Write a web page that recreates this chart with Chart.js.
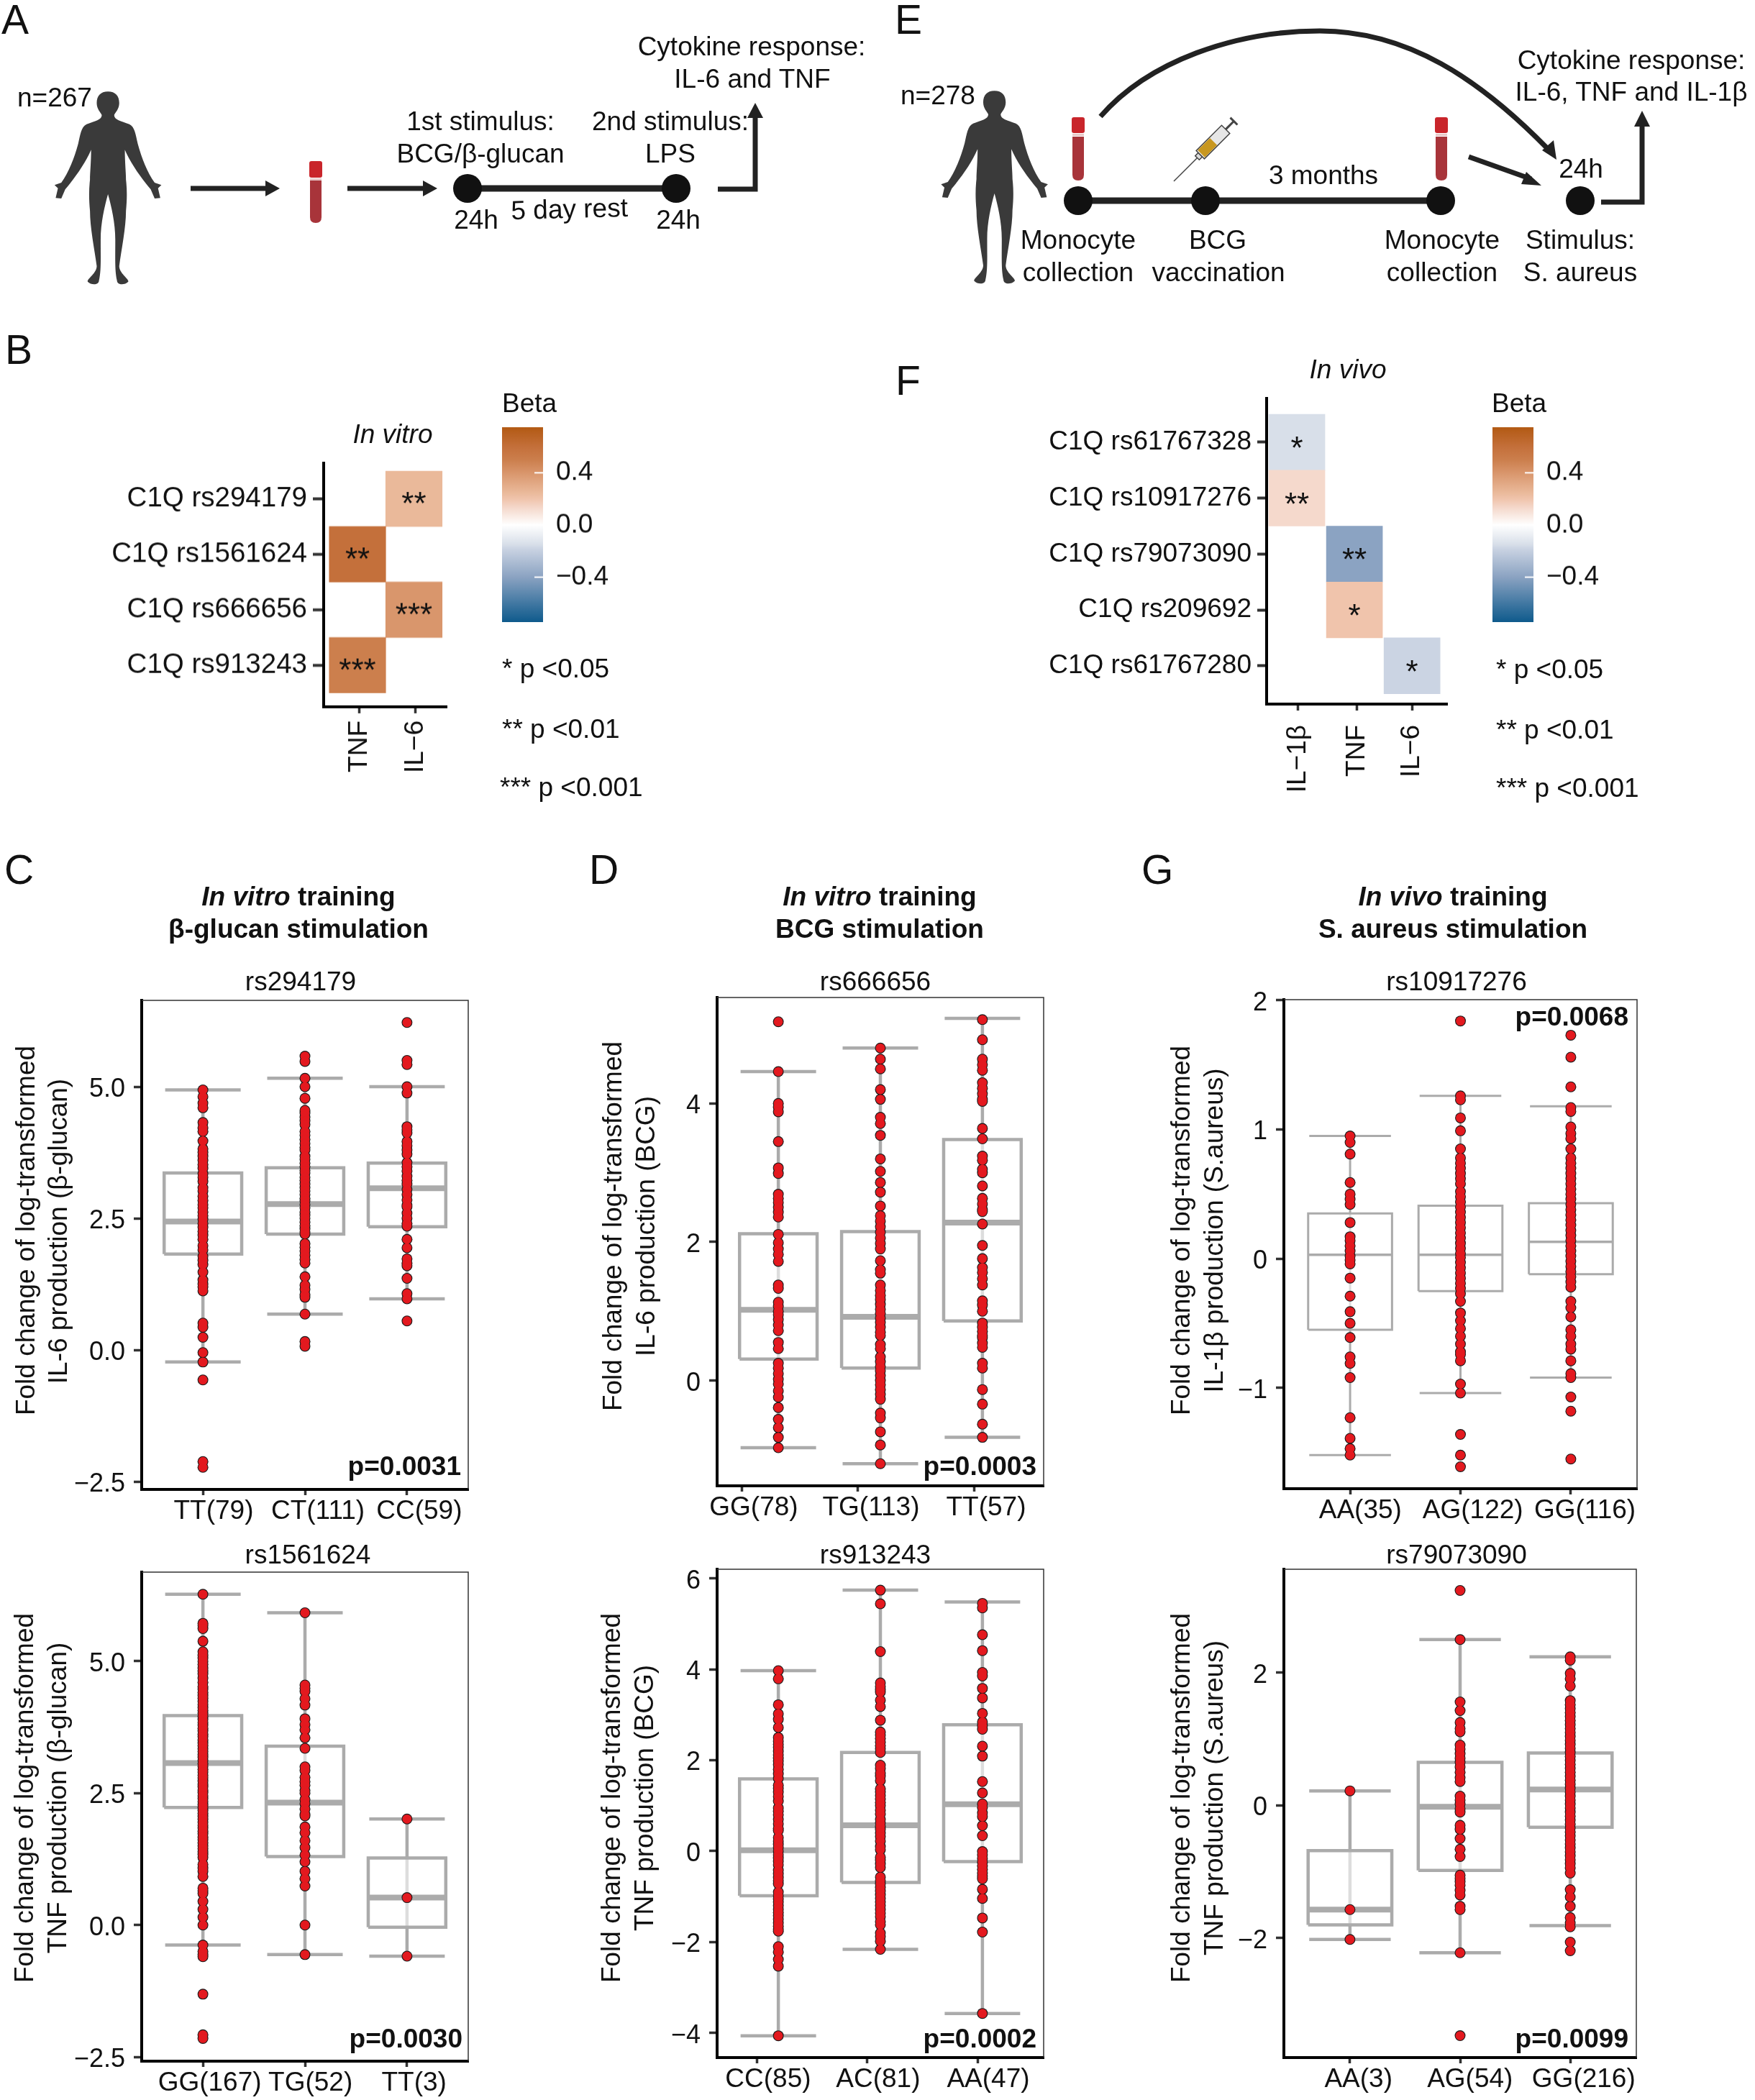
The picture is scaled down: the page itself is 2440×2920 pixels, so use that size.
<!DOCTYPE html>
<html><head><meta charset="utf-8">
<script src="https://cdn.jsdelivr.net/npm/chart.js@4"></script>
<style>
html,body{margin:0;padding:0;background:#fff}
#page{position:relative;width:2440px;height:2920px;overflow:hidden;background:#fff}
canvas{position:absolute}
svg{position:absolute;left:0;top:0;pointer-events:none}
text{font-family:"Liberation Sans",Arial,sans-serif;font-size:37px;fill:#111}
</style></head><body><div id="page"></div>
<script>
/* ---------- data: boxplot panels ---------- */
const catsC1=["TT(79)","CT(111)","CC(59)"];
const statsC1=[[1.82,2.44,3.36,-0.23,4.94],[2.20,2.77,3.46,0.68,5.16],[2.34,3.07,3.55,0.97,5.0]];
const ptsC1a=[4.94,4.81,4.69,4.6,4.32,4.22,4.15,3.97,3.82,3.75,3.68,3.6,3.52,3.45,3.35,3.28,3.2,3.08,3.02,2.92,2.84,2.76,2.7,2.62,2.55,2.48,2.4,2.33,2.25,2.18,2.1,1.98,1.9,1.78,1.7,1.62,1.48,1.33,1.25,1.2,1.12,0.51,0.43,0.24,-0.05,-0.23,-0.57,-2.12,-2.23];
const ptsC1b=[5.58,5.48,5.16,5.0,4.78,4.55,4.5,4.42,4.35,4.28,4.15,4.08,4.0,3.92,3.85,3.8,3.68,3.62,3.55,3.48,3.41,3.36,3.28,3.22,3.15,3.08,3.02,2.95,2.88,2.83,2.76,2.7,2.62,2.56,2.5,2.43,2.36,2.3,2.24,2.2,2.02,1.95,1.88,1.8,1.72,1.65,1.39,1.23,1.15,1.05,1.0,0.68,0.16,0.07];
const ptsC1c=[6.22,5.5,5.42,5.0,4.88,4.24,4.18,4.12,3.96,3.88,3.8,3.72,3.56,3.48,3.4,3.3,3.22,3.15,3.05,2.95,2.85,2.75,2.72,2.6,2.5,2.4,2.35,2.1,1.94,1.73,1.65,1.6,1.36,1.07,0.97,0.55];

const catsC2=["GG(167)","TG(52)","TT(3)"];
const statsC2=[[2.23,3.07,3.97,-0.38,6.27],[1.30,2.32,3.39,-0.56,5.92],[-0.04,0.52,1.27,-0.59,2.01]];
const ptsC2a=[6.27,5.72,5.68,5.62,5.38,5.18,5.12,5.06,5.0,4.94,4.87,4.82,4.76,4.68,4.6,4.52,4.47,4.41,4.35,4.3,4.24,4.18,4.12,4.07,4.01,3.96,3.9,3.84,3.79,3.73,3.68,3.62,3.57,3.51,3.45,3.4,3.34,3.29,3.23,3.18,3.12,3.06,3.01,2.95,2.9,2.84,2.79,2.73,2.67,2.62,2.56,2.51,2.45,2.4,2.34,2.28,2.23,2.17,2.12,2.06,2.01,1.95,1.89,1.84,1.78,1.73,1.67,1.62,1.56,1.5,1.45,1.39,1.34,1.28,1.15,1.08,1.02,0.92,0.7,0.65,0.6,0.45,0.3,0.15,0.0,-0.38,-0.5,-0.56,-0.6,-1.31,-2.08,-2.15];
const ptsC2b=[5.92,4.55,4.49,4.43,4.29,4.17,3.91,3.8,3.7,3.55,3.35,3.0,2.93,2.8,2.72,2.65,2.55,2.5,2.38,2.3,2.2,2.1,2.07,1.86,1.75,1.6,1.47,1.33,1.2,1.02,0.88,0.74,0,-0.56];
const ptsC2c=[2.01,0.52,-0.59];

const catsD1=["GG(78)","TG(113)","TT(57)"];
const statsD1=[[0.31,1.02,2.12,-0.97,4.46],[0.18,0.92,2.15,-1.2,4.80],[0.86,2.28,3.48,-0.82,5.23]];
const ptsD1a=[5.18,4.46,4.0,3.95,3.88,3.45,3.07,2.99,2.69,2.63,2.57,2.5,2.43,2.36,2.11,1.99,1.9,1.82,1.72,1.38,1.33,1.13,1.07,1.0,0.95,0.88,0.8,0.72,0.55,0.46,0.25,0.18,0.1,0.02,-0.05,-0.15,-0.24,-0.39,-0.56,-0.68,-0.82,-0.97];
const ptsD1b=[4.8,4.64,4.5,4.2,4.06,3.8,3.71,3.54,3.2,3.02,2.86,2.72,2.52,2.38,2.3,2.22,2.14,2.06,1.98,1.9,1.73,1.6,1.55,1.38,1.3,1.23,1.17,1.1,1.03,0.97,0.9,0.84,0.77,0.7,0.65,0.52,0.46,0.34,0.27,0.2,0.14,0.07,0.0,-0.06,-0.13,-0.2,-0.27,-0.47,-0.54,-0.74,-0.93,-1.2];
const ptsD1c=[5.21,4.92,4.64,4.56,4.48,4.3,4.22,4.14,4.06,4.03,3.64,3.49,3.24,3.18,3.05,3.0,2.81,2.63,2.55,2.47,2.44,2.26,1.95,1.76,1.63,1.56,1.47,1.38,1.15,1.09,1.0,0.83,0.77,0.71,0.65,0.62,0.54,0.48,0.25,0.18,-0.13,-0.34,-0.63,-0.82];

const catsD2=["CC(85)","AC(81)","AA(47)"];
const statsD2=[[-0.98,0.02,1.59,-4.06,3.97],[-0.69,0.57,2.17,-2.16,5.74],[-0.23,1.03,2.78,-3.57,5.48]];
const ptsD2a=[3.97,3.79,3.22,3.02,2.9,2.72,2.5,2.42,2.35,2.28,2.2,2.12,2.05,1.98,1.9,1.8,1.7,1.6,1.45,1.38,1.3,1.2,1.1,0.95,0.88,0.8,0.7,0.6,0.5,0.45,0.3,0.22,0.15,0.08,0,-0.08,-0.15,-0.22,-0.3,-0.42,-0.5,-0.58,-0.65,-0.72,-0.9,-0.98,-1.05,-1.12,-1.2,-1.28,-1.35,-1.42,-1.5,-1.58,-1.65,-1.72,-1.76,-2.1,-2.22,-2.38,-2.53,-4.06];
const ptsD2b=[5.74,5.44,4.39,3.7,3.62,3.55,3.5,3.32,3.18,2.88,2.62,2.55,2.48,2.4,2.32,2.25,2.17,1.89,1.82,1.72,1.65,1.55,1.37,1.3,1.22,1.15,1.07,1.0,0.9,0.82,0.7,0.62,0.55,0.48,0.4,0.32,0.22,0.1,0.03,-0.13,-0.2,-0.28,-0.36,-0.57,-0.65,-0.72,-0.8,-0.88,-0.96,-1.04,-1.12,-1.2,-1.28,-1.36,-1.44,-1.55,-1.62,-1.8,-1.88,-1.98,-2.16];
const ptsD2c=[5.45,5.35,4.76,4.41,3.93,3.85,3.58,3.37,3.03,2.84,2.76,2.68,2.31,2.09,1.53,1.28,1.04,0.96,0.84,0.76,0.56,0.34,-0.01,-0.08,-0.16,-0.24,-0.32,-0.4,-0.48,-0.55,-0.61,-0.84,-1.04,-1.47,-1.78,-3.57];

const catsG1=["AA(35)","AG(122)","GG(116)"];
const statsG1=[[-0.55,0.03,0.35,-1.52,0.95],[-0.25,0.03,0.41,-1.04,1.26],[-0.12,0.13,0.43,-0.92,1.18]];
const ptsG1a=[0.95,0.9,0.81,0.59,0.5,0.46,0.42,0.28,0.17,0.14,0.1,0.06,0.02,-0.01,-0.04,-0.15,-0.29,-0.41,-0.5,-0.61,-0.76,-0.81,-0.92,-1.23,-1.39,-1.47,-1.52];
const ptsG1b=[1.84,1.26,1.23,1.09,0.99,0.85,0.78,0.74,0.7,0.66,0.62,0.58,0.52,0.48,0.44,0.4,0.36,0.32,0.28,0.24,0.2,0.16,0.12,0.08,0.04,0.01,-0.03,-0.07,-0.11,-0.15,-0.19,-0.23,-0.27,-0.33,-0.42,-0.48,-0.54,-0.6,-0.66,-0.72,-0.74,-0.79,-0.97,-1.04,-1.36,-1.52,-1.61];
const ptsG1c=[1.73,1.56,1.33,1.17,1.14,1.02,0.97,0.93,0.85,0.78,0.74,0.7,0.66,0.62,0.58,0.54,0.5,0.46,0.42,0.38,0.34,0.3,0.26,0.22,0.18,0.14,0.1,0.06,0.02,-0.02,-0.06,-0.1,-0.14,-0.18,-0.22,-0.33,-0.38,-0.45,-0.55,-0.6,-0.66,-0.7,-0.79,-0.89,-0.92,-1.07,-1.18,-1.55];

const catsG2=["AA(3)","AG(54)","GG(216)"];
const statsG2=[[-1.80,-1.57,-0.68,-2.02,0.22],[-0.98,-0.02,0.65,-2.22,2.5],[-0.33,0.24,0.79,-1.81,2.24]];
const ptsG2a=[0.22,-1.57,-2.02];
const ptsG2b=[3.24,2.5,1.56,1.43,1.25,1.16,1.11,0.91,0.85,0.78,0.71,0.65,0.58,0.5,0.42,0.36,0.14,0.08,0.02,-0.05,-0.1,-0.3,-0.36,-0.5,-0.66,-0.77,-1.05,-1.1,-1.15,-1.2,-1.28,-1.35,-1.52,-1.57,-2.22,-3.47];
const ptsG2c=[2.24,2.19,1.99,1.91,1.8,1.58,1.52,1.46,1.4,1.34,1.28,1.22,1.16,1.1,1.04,0.98,0.92,0.86,0.8,0.74,0.68,0.62,0.56,0.5,0.44,0.38,0.32,0.26,0.2,0.14,0.08,0.02,-0.04,-0.1,-0.16,-0.22,-0.28,-0.34,-0.4,-0.46,-0.52,-0.58,-0.64,-0.7,-0.76,-0.82,-0.88,-0.94,-1.02,-1.27,-1.38,-1.52,-1.69,-1.77,-1.83,-2.06,-2.19];

/* ---------- data: heatmaps ---------- */
const rowsB=["C1Q rs294179","C1Q rs1561624","C1Q rs666656","C1Q rs913243"];
const colsB=["TNF","IL\u22126"];
const cellColB=[2,1,2,1];
const betaB=[0.25,0.6,0.4,0.5];
const starsB=["**","**","***","***"];
const rowsF=["C1Q rs61767328","C1Q rs10917276","C1Q rs79073090","C1Q rs209692","C1Q rs61767280"];
const colsF=["IL\u22121\u03b2","TNF","IL\u22126"];
const cellColF=[1,1,2,2,3];
const betaF=[-0.15,0.13,-0.4,0.2,-0.18];
const starsF=["*","**","**","*","*"];
const betaStopValues=[-0.75,-0.4,-0.18,-0.15,0,0.13,0.2,0.25,0.4,0.5,0.6,0.75];
const betaStopColors=["#0E5A8C","#8BA3C2","#CBD4E3","#D8DFE9","#FFFFFF","#F5D9CC","#F0C4AC","#EAB99A","#D9966C","#CC7F4D","#C4703B","#B35A14"];
const betaTicks=[0.4,0,-0.4];
const betaTickLabels=["0.4","0.0","\u22120.4"];

/* ---------- layout ---------- */
const GREY="#ABABAB", RED="#E3191F", FONT='"Liberation Sans", Arial, sans-serif';
const panels=[
 {c:catsC1,s:statsC1,p:[ptsC1a,ptsC1b,ptsC1c],L:197,R:651,T:1391,B:2071,ymin:-2.65,ymax:6.64,yt:[5,2.5,0,-2.5],yl:["5.0","2.5","0.0","\u22122.5"],tx:[1,2,3],lx:[1.105,2.127,3.12],lw:[4.5,8]},
 {c:catsC2,s:statsC2,p:[ptsC2a,ptsC2b,ptsC2c],L:197,R:651,T:2186,B:2866,ymin:-2.58,ymax:6.69,yt:[5,2.5,0,-2.5],yl:["5.0","2.5","0.0","\u22122.5"],tx:[1,2,3],lx:[1.067,2.054,3.069],lw:[4.5,8]},
 {c:catsD1,s:statsD1,p:[ptsD1a,ptsD1b,ptsD1c],L:997,R:1451,T:1387,B:2066,ymin:-1.52,ymax:5.53,yt:[4,2,0],yl:["4","2","0"],tx:[0.64,1.778,2.923],lx:[0.759,1.908,3.036],lw:[4.5,8]},
 {c:catsD2,s:statsD2,p:[ptsD2a,ptsD2b,ptsD2c],L:997,R:1451,T:2182,B:2861,ymin:-4.54,ymax:6.2,yt:[6,4,2,0,-2,-4],yl:["6","4","2","0","\u22122","\u22124"],tx:[0.792,1.873,2.955],lx:[0.9,1.978,3.057],lw:[4.5,8]},
 {c:catsG1,s:statsG1,p:[ptsG1a,ptsG1b,ptsG1c],L:1785,R:2276,T:1390,B:2070,ymin:-1.78,ymax:2.005,yt:[2,1,0,-1],yl:["2","1","0","\u22121"],tx:[1,2,3],lx:[1.093,2.112,3.128],lw:[3,3.5]},
 {c:catsG2,s:statsG2,p:[ptsG2a,ptsG2b,ptsG2c],L:1785,R:2275,T:2182,B:2861,ymin:-3.80,ymax:3.56,yt:[2,0,-2],yl:["2","0","\u22122"],tx:[1,2,3],lx:[1.077,2.09,3.122],lw:[4.5,8]}
];
const page=document.getElementById("page");
function addCanvas(l,t,w,h){const c=document.createElement("canvas");c.width=w;c.height=h;c.style.left=l+"px";c.style.top=t+"px";c.style.width=w+"px";c.style.height=h+"px";page.appendChild(c);return c;}
const setTicks=(vals)=>(s)=>{s.ticks=vals.map(v=>({value:v}));};
const noPad=(s)=>{s.paddingTop=0;s.paddingBottom=0;s.paddingLeft=0;s.paddingRight=0;};
const frame={id:"frame",afterDraw(ch){const a=ch.chartArea,g=ch.ctx;g.save();g.strokeStyle="#333";g.lineWidth=1.5;g.beginPath();g.moveTo(a.left,a.top);g.lineTo(a.right,a.top);g.lineTo(a.right,a.bottom);g.stroke();g.restore();}};

panels.forEach(P=>{
  const PAD=6,TOP=34,YW=100,XH=8,LH=52;
  const cv=addCanvas(P.L-YW,P.T-TOP,P.R-P.L+YW+PAD,P.B-P.T+TOP+XH+LH);
  const ds=[];
  P.s.forEach((st,i)=>{
    const x=i+1,[q1,med,q3,lo,hi]=st,line={showLine:true,pointRadius:0,borderColor:GREY,tension:0};
    ds.push({...line,order:5,borderWidth:P.lw[0],data:[{x,y:lo},{x,y:hi}]});
    ds.push({...line,order:3,borderWidth:P.lw[0],data:[{x:x-0.37,y:hi},{x:x+0.37,y:hi}]});
    ds.push({...line,order:3,borderWidth:P.lw[0],data:[{x:x-0.37,y:lo},{x:x+0.37,y:lo}]});
    ds.push({...line,order:4,borderWidth:P.lw[0],fill:"shape",backgroundColor:"rgba(255,255,255,0.6)",
      data:[{x:x-0.38,y:q1},{x:x+0.38,y:q1},{x:x+0.38,y:q3},{x:x-0.38,y:q3},{x:x-0.38,y:q1}]});
    ds.push({...line,order:3,borderWidth:P.lw[1],data:[{x:x-0.38,y:med},{x:x+0.38,y:med}]});
    const pts=P.p[i].map(v=>({x,y:v}));
    ds.push({order:2,showLine:false,pointRadius:7.5,pointBorderWidth:0,pointBackgroundColor:"#1a1a1a",data:pts});
    ds.push({order:1,showLine:false,pointRadius:6.4,pointBorderWidth:0,pointBackgroundColor:RED,data:pts});
  });
  new Chart(cv,{type:"scatter",data:{datasets:ds},plugins:[frame],options:{
    responsive:false,animation:false,devicePixelRatio:1,events:[],
    layout:{autoPadding:false,padding:{top:TOP,right:PAD,left:0,bottom:0}},
    plugins:{legend:{display:false},tooltip:{enabled:false},title:{display:false}},
    scales:{
      x:{type:"linear",min:0.4,max:3.6,position:"bottom",afterBuildTicks:setTicks(P.tx),afterFit:s=>{s.height=XH;noPad(s);},
         grid:{display:true,drawOnChartArea:false,drawTicks:true,tickLength:XH,tickWidth:3.5,tickColor:"#333"},
         border:{display:true,width:4,color:"#000"},ticks:{display:false}},
      x2:{type:"linear",min:0.4,max:3.6,position:"bottom",weight:1,afterBuildTicks:setTicks(P.lx),afterFit:s=>{s.height=LH;noPad(s);},
         grid:{display:false,drawTicks:false},border:{display:false},
         ticks:{autoSkip:false,maxRotation:0,minRotation:0,padding:1,color:"#111",font:{family:FONT,size:37},callback:(v,i)=>P.c[i]}},
      y:{type:"linear",min:P.ymin,max:P.ymax,position:"left",afterBuildTicks:setTicks(P.yt),afterFit:s=>{s.width=YW;noPad(s);},
         grid:{display:true,drawOnChartArea:false,drawTicks:true,tickLength:11,tickWidth:3.5,tickColor:"#333"},
         border:{display:true,width:4,color:"#000"},
         ticks:{autoSkip:false,padding:12,labelOffset:4,color:"#111",font:{family:FONT,size:36},callback:(v,i)=>P.yl[i]}}
    }}});
});

/* ---------- heatmaps ---------- */
function hexRgb(h){return [1,3,5].map(i=>parseInt(h.substr(i,2),16));}
function colorFor(b){
  let i=0;while(i<betaStopValues.length-2&&b>betaStopValues[i+1])i++;
  const t=(b-betaStopValues[i])/(betaStopValues[i+1]-betaStopValues[i]);
  const a=hexRgb(betaStopColors[i]),c=hexRgb(betaStopColors[i+1]);
  return "rgb("+a.map((v,k)=>Math.round(v+(c[k]-v)*t)).join(",")+")";
}
function heat(o){
  const YW=o.YW,XH=o.XH,PAD=6;
  const cv=addCanvas(o.L-YW,o.T-PAD,o.R-o.L+YW+PAD,o.B-o.T+PAD+XH);
  const stars={id:"stars",afterDatasetsDraw(ch){const g=ch.ctx;g.save();g.fillStyle="#111";g.font="44px "+FONT;g.textAlign="center";g.textBaseline="alphabetic";
    o.stars.forEach((s,i)=>{g.fillText(s,ch.scales.x.getPixelForValue(o.cellCol[i]),ch.scales.y.getPixelForValue(i+1)+o.starDy);});g.restore();}};
  new Chart(cv,{type:"bar",plugins:[stars],data:{datasets:[{grouped:false,barThickness:o.bw,borderWidth:0,
      backgroundColor:o.beta.map(colorFor),
      data:o.beta.map((b,i)=>({x:o.cellCol[i],y:[i+0.5,i+1.5]}))}]},
    options:{responsive:false,animation:false,devicePixelRatio:1,events:[],
      layout:{autoPadding:false,padding:{top:PAD,right:PAD,left:0,bottom:0}},
      plugins:{legend:{display:false},tooltip:{enabled:false}},
      scales:{
        x:{type:"linear",offset:false,min:o.xmin,max:o.xmax,afterBuildTicks:setTicks(o.xt),afterFit:s=>{s.height=XH;noPad(s);},
           grid:{offset:false,display:true,drawOnChartArea:false,tickLength:o.tl,tickWidth:3.5,tickColor:"#333"},
           border:{display:true,width:4,color:"#000"},
           ticks:{autoSkip:false,minRotation:90,maxRotation:90,padding:o.xpad,color:"#111",font:{family:FONT,size:37},callback:(v,i)=>o.cols[i]}},
        y:{type:"linear",reverse:true,min:o.ymin,max:o.ymax,afterBuildTicks:setTicks(o.rows.map((r,i)=>i+1)),afterFit:s=>{s.width=YW;noPad(s);},
           grid:{display:true,drawOnChartArea:false,tickLength:o.ytl,tickWidth:4,tickColor:"#333"},
           border:{display:true,width:4,color:"#000"},
           ticks:{autoSkip:false,padding:8,color:"#111",font:{family:FONT,size:o.yf},callback:(v,i)=>o.rows[i]}}
      }}});
}
heat({L:450,R:621,T:644,B:982.5,YW:320,XH:110,bw:78.5,xmin:0.401,xmax:2.58,ymin:0.357,ymax:4.75,xt:[1.03,2.03],tl:9,ytl:15,xpad:10,yf:38.5,rows:rowsB,cols:colsB,cellCol:cellColB,beta:betaB,stars:starsB,starDy:22});
heat({L:1761,R:2012,T:554,B:979,YW:350,XH:135,bw:78,xmin:0.475,xmax:3.61,ymin:0.215,ymax:5.685,xt:[1.02,2.04,3],tl:9,ytl:13,xpad:20,yf:37,rows:rowsF,cols:colsF,cellCol:cellColF,beta:betaF,stars:starsF,starDy:23});

/* ---------- colour bars ---------- */
function colorbar(L,R,T,B){
  const YW=90,PAD=4;
  const cv=addCanvas(L,T-PAD,R-L+YW,B-T+2*PAD);
  const low=-0.745,high=0.75;
  new Chart(cv,{data:{datasets:[
      {type:"scatter",showLine:true,pointRadius:0,borderColor:"#fff",borderWidth:2,data:[{x:0.79,y:betaTicks[0]},{x:1,y:betaTicks[0]}],order:1},
      {type:"scatter",showLine:true,pointRadius:0,borderColor:"#fff",borderWidth:2,data:[{x:0.79,y:betaTicks[2]},{x:1,y:betaTicks[2]}],order:1},
      {type:"bar",order:2,barThickness:R-L,borderWidth:0,data:[{x:0.5,y:[low,high]}],
       backgroundColor:(ctx)=>{const ch=ctx.chart,a=ch.chartArea;if(!a)return "#888";const sc=ch.scales.y,g=ch.ctx.createLinearGradient(0,a.top,0,a.bottom);
         betaStopValues.slice().reverse().forEach((v,i)=>{const p=Math.min(1,Math.max(0,(sc.getPixelForValue(v)-a.top)/(a.bottom-a.top)));g.addColorStop(p,betaStopColors[betaStopColors.length-1-i]);});return g;}}
    ]},options:{responsive:false,animation:false,devicePixelRatio:1,events:[],
      layout:{autoPadding:false,padding:{top:PAD,bottom:PAD,left:0,right:0}},
      plugins:{legend:{display:false},tooltip:{enabled:false}},
      scales:{x:{type:"linear",offset:false,min:0,max:1,display:false,grid:{offset:false},afterFit:noPad},
        y:{type:"linear",position:"right",min:low,max:high,afterBuildTicks:setTicks(betaTicks),afterFit:s=>{s.width=YW;noPad(s);},
           grid:{display:false,drawTicks:false},border:{display:false},
           ticks:{autoSkip:false,padding:18,color:"#111",font:{family:FONT,size:37},callback:(v,i)=>betaTickLabels[i]}}}
    }});
}
colorbar(698,755,594.4,864.6);
colorbar(2075,2132,594.4,864.6);

/* ---------- overlay: schematics and annotations ---------- */
const plain=[
 ["A",2,47,"start",57],["E",1244,47,"start",57],["B",7,506,"start",57],["F",1245,549,"start",57],
 ["C",6,1229,"start",57],["D",819,1229,"start",57],["G",1587,1229,"start",57],
 ["n=267",24,148,"start"],["Cytokine response:",1045,77,"middle"],["IL-6 and TNF",1046,122,"middle"],
 ["1st stimulus:",668,181,"middle"],["BCG/\u03b2-glucan",668,226,"middle"],["2nd stimulus:",932,181,"middle"],["LPS",932,226,"middle"],
 ["24h",662,318,"middle"],["24h",943,318,"middle"],
 ["n=278",1252,145,"start"],["Cytokine response:",2268,96,"middle"],["IL-6, TNF and IL-1\u03b2",2268,140,"middle"],
 ["24h",2198,247,"middle"],["3 months",1840,256,"middle"],
 ["Monocyte",1499,346,"middle"],["collection",1499,391,"middle"],["BCG",1693,346,"middle"],["vaccination",1694,391,"middle"],
 ["Monocyte",2005,346,"middle"],["collection",2005,391,"middle"],["Stimulus:",2197,346,"middle"],["S. aureus",2197,391,"middle"],
 ["Beta",698,573,"start"],["* p <0.05",698,942,"start"],["** p <0.01",698,1026,"start"],["*** p <0.001",695,1107,"start"],
 ["Beta",2074,573,"start"],["* p <0.05",2080,943,"start"],["** p <0.01",2080,1027,"start"],["*** p <0.001",2080,1108,"start"],
 ["rs294179",418,1377,"middle"],["rs1561624",428,2173.5,"middle"],["rs666656",1217,1377,"middle"],["rs913243",1217,2173.5,"middle"],["rs10917276",2025,1377,"middle"],["rs79073090",2025,2173.5,"middle"]
];
const italics=[["In vitro",546,616],["In vivo",1874,526]];
const boldRight=[["p=0.0031",641,2051],["p=0.0030",643,2847],["p=0.0003",1441,2051],["p=0.0002",1441,2847],["p=0.0068",2264,1426],["p=0.0099",2264,2847]];
const heads=[["In vitro"," training","\u03b2-glucan stimulation",415],["In vitro"," training","BCG stimulation",1223],["In vivo"," training","S. aureus stimulation",2020]];
const yTitles=[
 ["Fold change of log-transformed",35,1711],["IL-6 production (\u03b2-glucan)",80,1712],
 ["Fold change of log-transformed",33,2500],["TNF production (\u03b2-glucan)",79,2500],
 ["Fold change of log-transformed",851,1705],["IL-6 production (BCG)",897,1705],
 ["Fold change of log-transformed",849,2500],["TNF production (BCG)",895,2500],
 ["Fold change of log-transformed",1640.5,1711],["IL-1\u03b2 production (S.aureus)",1687,1711],
 ["Fold change of log-transformed",1640.5,2500],["TNF production (S.aureus)",1687,2500]
];
const human="M192 382C205 382 212 400 212 430C212 455 205 470 203 480C203 500 215 505 230 518C240 530 241 560 245 600C252 660 262 720 275 762L287 772L281 785L285 826L275 828L268 790C250 740 232 680 222 625C222 680 224 720 224 750C226 790 226 830 224 880C224 950 216 1040 212 1110C212 1140 230 1165 228 1175C222 1190 208 1190 208 1170C204 1130 205 1080 205 1000C205 930 198 860 192 810C186 860 179 930 179 1000C179 1080 180 1130 176 1170C176 1190 162 1190 156 1175C154 1165 172 1140 172 1110C168 1040 160 950 160 880C158 830 158 790 160 750C160 720 162 680 162 625C152 680 134 740 116 790L109 828L99 826L103 785L97 772L109 762C122 720 132 660 139 600C143 560 144 530 154 518C169 505 181 500 181 480C179 470 172 455 172 430C172 400 179 382 192 382Z";
function tube(cx,hw,t0,t1,t2,t3){return `<rect x="${cx-hw}" y="${t0}" width="${2*hw}" height="${t1-t0}" rx="3" fill="#C9252B"/><rect x="${cx-hw+1}" y="${t1+1}" width="${2*hw-2}" height="3" fill="#e8c9c9"/><path d="M${cx-hw+1} ${t2}H${cx+hw-1}V${t3-8}Q${cx+hw-1} ${t3} ${cx} ${t3}Q${cx-hw+1} ${t3} ${cx-hw+1} ${t3-8}Z" fill="#A8343A"/>`;}
const ink="#222";
function hline(a,b,y,w){return `<line x1="${a}" y1="${y}" x2="${b}" y2="${y}" stroke="${ink}" stroke-width="${w}"/>`;}
function arrowR(a,b,y){return hline(a,b-18,y,7)+`<polygon points="${b-20},${y-11} ${b},${y} ${b-20},${y+11}" fill="${ink}"/>`;}
function dot(x,y){return `<ellipse cx="${x}" cy="${y}" rx="20" ry="20" fill="#111"/>`;}
let s=`<svg width="2440" height="2920" viewBox="0 0 2440 2920" xmlns="http://www.w3.org/2000/svg">`;
s+=`<path d="${human}" fill="#3a3a3a" transform="scale(.7819,.3333)"/><path d="${human}" fill="#3a3a3a" transform="translate(1232.5,-1) scale(.7819,.3333)"/>`;
s+=tube(439,9,224,247,251,310);
s+=arrowR(265,389,262)+arrowR(483,608,262)+hline(650,940,262,9)+dot(650,262)+dot(940,262);
s+=`<path d="M998 263H1050V160" fill="none" stroke="${ink}" stroke-width="7"/><polygon points="1039,164 1050,143 1061,164" fill="${ink}"/>`;
s+=`<text x="792" y="303" text-anchor="middle" transform="rotate(-1.5 792 303)">5 day rest</text>`;
s+=tube(1499,9,163,185,190,251)+tube(2004,9,163,185,190,251);
s+=hline(1499,2003,279,9)+dot(1499,279)+dot(1676,279)+dot(2003,279)+dot(2197,279);
s+=`<path d="M2226 281H2283V172" fill="none" stroke="${ink}" stroke-width="7"/><polygon points="2272,176 2283,154 2294,176" fill="${ink}"/>`;
s+=`<path d="M1530 162C1597 85 1717 43 1835 43C1957 43 2057 110 2151 206" fill="none" stroke="${ink}" stroke-width="7"/><polygon points="2144,209 2160,195 2164,222" fill="${ink}"/>`;
s+=`<line x1="2042" y1="218" x2="2129" y2="249" stroke="${ink}" stroke-width="7"/><polygon points="2122,239 2143,258 2115,256" fill="${ink}"/>`;
s+=`<g transform="translate(1632,252) rotate(-45)"><line x1="0" y1="0" x2="46" y2="0" stroke="#444" stroke-width="1.5"/><rect x="46" y="-4" width="6" height="8" fill="#ddd" stroke="#444" stroke-width="1.5"/><rect x="52" y="-8" width="50" height="16" fill="#e6e6e6" stroke="#444" stroke-width="1.5"/><rect x="54" y="-7" width="24" height="14" fill="#C8971F"/><line x1="102" y1="0" x2="118" y2="0" stroke="#444" stroke-width="3"/><line x1="118" y1="-7" x2="118" y2="7" stroke="#444" stroke-width="3"/></g>`;
plain.forEach(t=>{s+=`<text x="${t[1]}" y="${t[2]}" text-anchor="${t[3]}"${t[4]?` style="font-size:${t[4]}px"`:""}>${t[0]}</text>`;});
italics.forEach(t=>{s+=`<text x="${t[1]}" y="${t[2]}" text-anchor="middle" font-style="italic">${t[0]}</text>`;});
boldRight.forEach(t=>{s+=`<text x="${t[1]}" y="${t[2]}" text-anchor="end" font-weight="bold">${t[0]}</text>`;});
heads.forEach(t=>{s+=`<text x="${t[3]}" y="1259" text-anchor="middle" font-weight="bold"><tspan font-style="italic">${t[0]}</tspan>${t[1]}</text><text x="${t[3]}" y="1304" text-anchor="middle" font-weight="bold">${t[2]}</text>`;});
yTitles.forEach(t=>{s+=`<text transform="translate(${t[1]+13},${t[2]}) rotate(-90)" text-anchor="middle">${t[0]}</text>`;});
s+=`</svg>`;
page.insertAdjacentHTML("beforeend",s);
</script></body></html>
